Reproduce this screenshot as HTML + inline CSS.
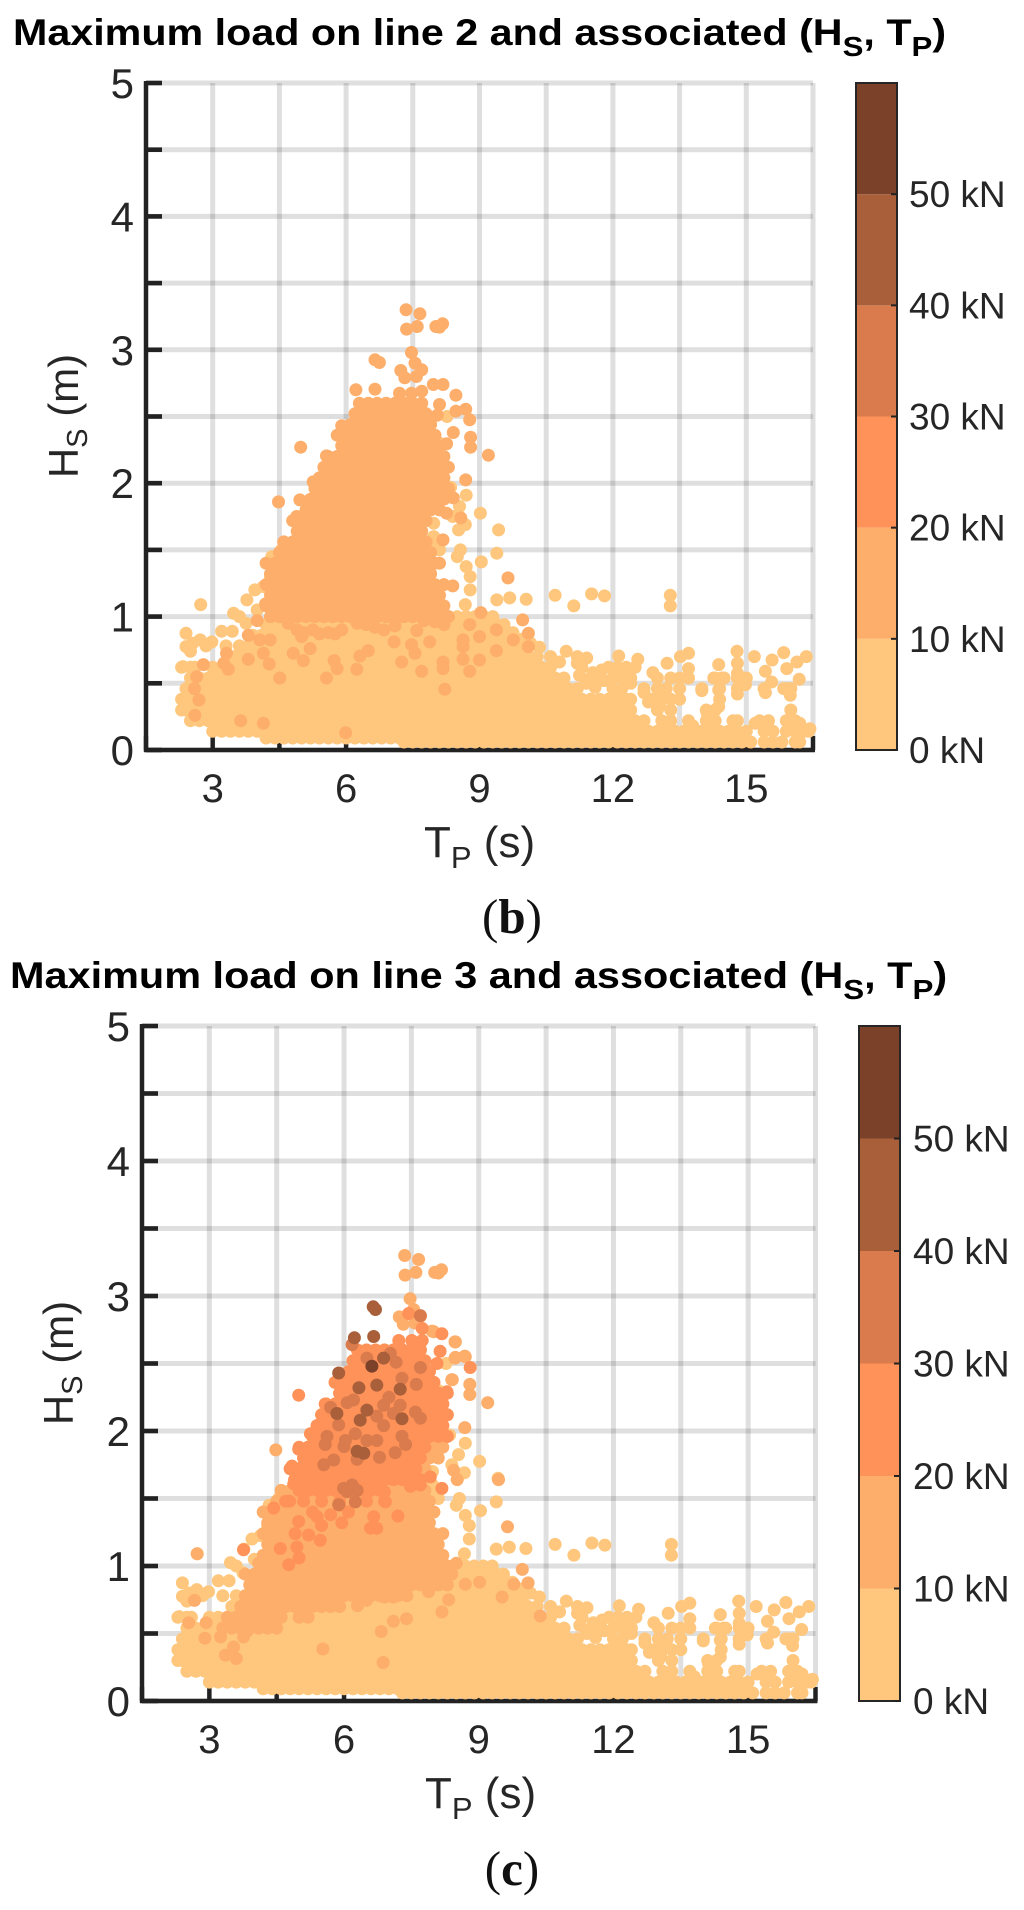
<!DOCTYPE html>
<html>
<head>
<meta charset="utf-8">
<title>Maximum load on lines 2 and 3</title>
<style>
html,body{margin:0;padding:0;background:#fff;}
svg{display:block;}
text{font-family:"Liberation Sans",sans-serif;fill:#262626;}
.title{font-weight:bold;fill:#000;font-size:37px;}
.cap{font-family:"Liberation Serif",serif;fill:#111;font-size:49px;}
.axl{font-size:42px;}
.axt{font-size:44px;}
</style>
</head>
<body>
<svg id="chart" xmlns="http://www.w3.org/2000/svg" width="1024" height="1910" viewBox="0 0 1024 1910">
  <rect width="1024" height="1910" fill="#fff"/>
  <g id="layer-b"></g>
  <g id="layer-c"></g>
  <g transform="translate(13,45) scale(1.115,1)"><text class="title">Maximum load on line 2 and associated (H<tspan font-size="28" dy="11">S</tspan><tspan dy="-11">, T</tspan><tspan font-size="28" dy="11">P</tspan><tspan dy="-11">)</tspan></text></g>
  <g transform="translate(10,988) scale(1.12,1)"><text class="title">Maximum load on line 3 and associated (H<tspan font-size="28" dy="11">S</tspan><tspan dy="-11">, T</tspan><tspan font-size="28" dy="11">P</tspan><tspan dy="-11">)</tspan></text></g>
  <text class="axt" x="424" y="857">T<tspan font-size="31" dy="11">P</tspan><tspan dy="-11"> (s)</tspan></text>
  <text class="axt" x="425" y="1808">T<tspan font-size="31" dy="11">P</tspan><tspan dy="-11"> (s)</tspan></text>
  <text class="axl" text-anchor="middle" transform="translate(78,416) rotate(-90)">H<tspan font-size="29" dy="9">S</tspan><tspan dy="-9"> (m)</tspan></text>
  <text class="axl" text-anchor="middle" transform="translate(73,1363) rotate(-90)">H<tspan font-size="29" dy="9">S</tspan><tspan dy="-9"> (m)</tspan></text>
  <text class="cap" text-anchor="middle" x="512" y="933">(<tspan font-weight="bold">b</tspan>)</text>
  <text class="cap" text-anchor="middle" x="512" y="1885">(<tspan font-weight="bold">c</tspan>)</text>
</svg>
<script>
// ---- tick labels and colour bands ----
const xTickValues = [3, 6, 9, 12, 15];
const yTickValues = [0, 1, 2, 3, 4, 5];
const barLevels = [0, 10, 20, 30, 40, 50, 60];
const barLabels = ['0 kN', '10 kN', '20 kN', '30 kN', '40 kN', '50 kN'];
const bandColors = ['#FEC77D', '#FEAE6B', '#FF9259', '#D97B4C', '#A85F3A', '#7C4229'];

// ---- sea states below 10 kN on both lines (rows of equal Hs) ----
const baseHs = [0.06, 0.09, 0.14, 0.22, 0.30, 0.38, 0.46, 0.54, 0.62, 0.70, 0.78, 0.86, 0.94, 1.0];
const baseTp = [
[7.3,7.5,7.7,7.9,8.1,8.3,8.5,8.7,8.9,9.1,9.3,9.5,9.7,9.9,10.1,10.3,10.5,10.7,10.9,11.1,11.3,11.5,11.7,11.9,12.1,12.3,12.5,12.7,12.9,13.1,13.3,13.5,13.7,13.9,14.1,14.3,14.5,14.7,14.9,15.1,15.4,15.6,15.8,16.1,16.2],
[4.2,4.4,4.6,4.8,5.0,5.2,5.4,5.6,5.8,6.0,6.2,6.4,6.6,6.8,7.0,7.2],
[3.0,3.2,3.4,3.6,3.8,4.0,4.2,4.4,4.6,4.8,5.0,5.2,5.4,5.6,5.8,6.0,6.2,6.4,6.6,6.8,7.0,7.2,7.4,7.6,7.8,8.0,8.2,8.4,8.6,8.8,9.0,9.2,9.4,9.6,9.8,10.0,10.2,10.4,10.6,10.8,11.0,11.2,11.4,11.6,11.8,12.0,12.2,12.4,12.6,12.8,13.0,13.2,13.4,13.6,13.8,14.0,14.2,14.4,14.6,14.8,15.0,15.4,15.6,15.9,16.1,16.3,16.4],
[2.5,2.7,2.9,3.1,3.3,3.5,3.7,3.9,4.1,4.3,4.5,4.7,4.9,5.1,5.3,5.5,5.7,5.9,6.1,6.3,6.5,6.7,6.9,7.1,7.3,7.5,7.7,7.9,8.1,8.3,8.5,8.7,8.9,9.1,9.3,9.5,9.7,9.9,10.1,10.3,10.5,10.7,10.9,11.1,11.3,11.5,11.7,11.9,12.1,12.3,12.5,12.7,13.1,13.3,13.7,14.1,14.3,14.7,14.8,15.3,15.5,15.9,16.0,16.1],
[2.3,2.4,2.6,2.8,3.0,3.2,3.4,3.6,3.8,4.0,4.2,4.4,4.6,4.8,5.0,5.2,5.4,5.6,5.8,6.0,6.2,6.4,6.6,6.8,7.0,7.2,7.4,7.6,7.8,8.0,8.2,8.4,8.6,8.8,9.0,9.2,9.4,9.6,9.8,10.0,10.2,10.4,10.6,10.8,11.0,11.2,11.4,11.6,11.8,12.0,12.2,12.4,13.0,13.3,14.1,14.3,16.0],
[2.3,2.5,2.7,2.9,3.1,3.3,3.5,3.7,3.9,4.1,4.3,4.5,4.7,4.9,5.1,5.3,5.5,5.7,5.9,6.1,6.3,6.5,6.7,6.9,7.1,7.3,7.5,7.7,7.9,8.1,8.3,8.5,8.7,8.9,9.1,9.3,9.5,9.7,9.9,10.1,10.3,10.5,10.7,10.9,11.1,11.3,11.5,11.7,11.9,12.1,12.3,12.4,12.9,13.1,13.3,13.5,14.4],
[2.4,2.6,2.8,3.0,3.2,3.4,3.6,3.8,4.0,4.2,4.4,4.6,4.8,5.0,5.2,5.4,5.6,5.8,6.0,6.2,6.4,6.6,6.8,7.0,7.2,7.4,7.6,7.8,8.0,8.2,8.4,8.6,8.8,9.0,9.2,9.4,9.6,9.8,10.0,10.2,10.4,10.6,10.8,11.0,11.2,12.0,12.2,12.7,13.0,13.2,13.5,14.0,14.4,14.8,15.4,15.9,16.0],
[2.5,2.7,2.9,3.1,3.3,3.5,3.7,3.9,4.1,4.3,4.5,4.7,4.9,5.1,5.3,5.5,5.7,5.9,6.1,6.3,6.5,6.7,6.9,7.1,7.3,7.5,7.7,7.9,8.1,8.3,8.5,8.7,8.9,9.1,9.3,9.5,9.7,9.9,10.1,10.3,10.5,10.7,10.9,11.5,11.7,12.0,12.2,12.4,13.0,13.3,13.5,13.7,14.3,14.5,14.8,15.0],
[2.3,2.5,3.0,3.2,3.4,3.6,3.8,4.0,4.2,4.4,4.6,4.8,5.0,5.2,5.4,5.6,5.8,6.0,6.2,6.4,6.6,6.8,7.0,7.2,7.4,7.6,7.8,8.0,8.2,8.4,8.6,8.8,9.0,9.2,9.4,9.6,9.8,10.0,10.2,10.4,10.6,11.3,11.9,12.1,12.3,12.5],
[3.5,3.7,3.9,4.1,4.3,4.5,4.7,4.9,5.1,5.3,5.5,5.7,5.9,6.1,6.3,6.5,6.7,6.9,7.1,7.3,7.5,7.7,7.9,8.1,8.3,8.5,8.7,8.9,9.1,9.3,9.5,9.7,9.9,10.1,10.3,11.2],
[3.6,3.8,4.0,4.2,4.4,4.6,4.8,5.0,5.2,5.4,5.6,5.8,6.0,6.2,6.4,6.6,6.8,7.0,7.2,7.4,7.6,7.8,8.0,8.2,8.4,8.6,8.8,9.0,9.2,9.4,9.6,9.8,10.0],
[3.9,4.1,4.3,4.5,4.7,4.9,5.1,5.3,5.5,5.7,5.9,6.1,6.3,6.5,6.7,6.9,7.1,7.3,7.5,7.7,7.9,8.1,8.3,8.5,8.7,8.9,9.1,9.3,9.5,9.7],
[4.2,4.4,4.6,4.8,5.0,5.2,5.4,5.6,5.8,6.0,6.2,6.4,6.6,6.8,7.0,7.2,7.4,7.6,7.8,8.0,8.2,8.4,8.6,8.8,9.0,9.2,9.4],
[8.3,8.5,8.7,8.9,9.1,9.3]
];

// ---- isolated sea states below 10 kN on both lines ----
const sparseTp = [2.73,2.4,2.72,2.98,2.4,2.5,3.2,3.44,3.47,3.6,3.77,4.14,4.0,2.33,2.6,2.85,2.55,3.3,3.75,4.33,4.38,4.3,4.55,9.02,9.43,9.39,9.04,9.39,9.68,10.05,10.7,11.12,11.52,11.81,13.29,13.29,8.7,8.55,8.68,8.53,8.57,8.5,8.7,8.79,8.79,8.68,8.27,8.1,8.35,8.4,7.97,7.97,8.1,7.9,8.0,10.95,11.41,11.2,12.13,12.56,13.7,13.52,13.22,13.7,12.9,14.79,14.38,14.8,14.8,15.18,15.84,16.35,15.58,15.43,15.91,16.14,16.19,15.57,14.27,14.45,14.98,14.8,15.43,15.84,15.99,14.38,14.38,14.12,14.0,16.43,15.2,13.8,16.2,3.95,11.4,11.6,11.8,11.25,11.55,11.75,12.3,12.4,12.7,12.8,13.05,10.8,10.6,10.35,10.15,9.95,9.75,9.55];
const sparseHs = [1.09,0.875,0.825,0.81,0.775,0.74,0.89,0.89,1.025,1.0,1.125,1.225,1.05,0.625,0.62,0.78,0.8,0.78,0.95,1.45,1.37,1.3,1.5,1.775,1.65,1.475,1.41,1.125,1.14,1.13,1.16,1.08,1.17,1.155,1.16,1.08,1.91,1.825,1.69,1.65,1.5,1.45,1.375,1.3,1.2,1.09,2.5,2.3,1.97,1.75,1.7,1.6,1.5,1.5,1.55,0.74,0.69,0.65,0.705,0.68,0.725,0.7,0.65,0.61,0.58,0.74,0.64,0.65,0.575,0.7,0.73,0.7,0.675,0.59,0.61,0.66,0.53,0.51,0.54,0.54,0.49,0.42,0.43,0.46,0.41,0.45,0.325,0.275,0.445,0.16,0.2,0.18,0.2,1.2,0.5,0.47,0.52,0.56,0.58,0.6,0.6,0.5,0.43,0.36,0.33,0.66,0.7,0.77,0.8,0.83,0.88,0.94];

// ---- central cloud, 10-20 kN on both lines unless overdrawn ----
const cloudHs = [1.00,1.08,1.16,1.24,1.32,1.40,1.48,1.56,1.64,1.72,1.80,1.88,1.96,2.04,2.12,2.20,2.28,2.36,2.44,2.52,2.60];
const cloudTp = [
[4.3,4.5,4.7,4.9,5.1,5.3,5.5,5.7,5.9,6.1,6.3,6.5,6.7,6.9,7.1,7.3,7.5,7.7,7.9,8.1,8.3],
[4.2,4.4,4.6,4.8,5.0,5.2,5.4,5.6,5.8,6.0,6.2,6.4,6.6,6.8,7.0,7.2,7.4,7.6,7.8,8.0,8.2],
[4.3,4.5,4.7,4.9,5.1,5.3,5.5,5.7,5.9,6.1,6.3,6.5,6.7,6.9,7.1,7.3,7.5,7.7,7.9,8.1],
[4.2,4.4,4.6,4.8,5.0,5.2,5.4,5.6,5.8,6.0,6.2,6.4,6.6,6.8,7.0,7.2,7.4,7.6,7.8,8.0,8.2],
[4.3,4.5,4.7,4.9,5.1,5.3,5.5,5.7,5.9,6.1,6.3,6.5,6.7,6.9,7.1,7.3,7.5,7.7,7.9],
[4.2,4.4,4.6,4.8,5.0,5.2,5.4,5.6,5.8,6.0,6.2,6.4,6.6,6.8,7.0,7.2,7.4,7.6,7.8,8.0],
[4.5,4.7,4.9,5.1,5.3,5.5,5.7,5.9,6.1,6.3,6.5,6.7,6.9,7.1,7.3,7.5,7.7,7.9],
[4.6,4.8,5.0,5.2,5.4,5.6,5.8,6.0,6.2,6.4,6.6,6.8,7.0,7.2,7.4,7.6,7.8],
[4.9,5.1,5.3,5.5,5.7,5.9,6.1,6.3,6.5,6.7,6.9,7.1,7.3,7.5,7.7],
[4.8,5.0,5.2,5.4,5.6,5.8,6.0,6.2,6.4,6.6,6.8,7.0,7.2,7.4,7.6,7.8],
[5.1,5.3,5.5,5.7,5.9,6.1,6.3,6.5,6.7,6.9,7.1,7.3,7.5,7.7,7.9,8.1],
[5.2,5.4,5.6,5.8,6.0,6.2,6.4,6.6,6.8,7.0,7.2,7.4,7.6,7.8,8.0,8.2],
[5.3,5.5,5.7,5.9,6.1,6.3,6.5,6.7,6.9,7.1,7.3,7.5,7.7,7.9,8.1,8.3],
[5.4,5.6,5.8,6.0,6.2,6.4,6.6,6.8,7.0,7.2,7.4,7.6,7.8,8.0,8.2],
[5.5,5.7,5.9,6.1,6.3,6.5,6.7,6.9,7.1,7.3,7.5,7.7,7.9,8.1,8.3],
[5.6,5.8,6.0,6.2,6.4,6.6,6.8,7.0,7.2,7.4,7.6,7.8,8.0,8.2],
[5.9,6.1,6.3,6.5,6.7,6.9,7.1,7.3,7.5,7.7,7.9,8.1],
[5.8,6.0,6.2,6.4,6.6,6.8,7.0,7.2,7.4,7.6,7.8,8.0],
[6.1,6.3,6.5,6.7,6.9,7.1,7.3,7.5,7.7,7.9],
[6.2,6.4,6.6,6.8,7.0,7.2,7.4,7.6,7.8],
[6.3,6.5,6.7,6.9,7.1,7.3,7.5,7.7]
];
const peakTp = [7.35,7.66,7.36,7.6,8.02,8.17,8.1,7.47,7.55,7.7,7.23,7.32,7.58,7.96,8.47,8.47,8.69,8.41,8.8,8.8,9.2,8.69,4.48,9.64,9.97,10.1];
const peakHs = [3.30,3.27,3.155,3.175,3.175,3.195,3.17,2.98,2.9,2.85,2.845,2.79,2.8,2.74,2.66,2.54,2.555,2.38,2.345,2.27,2.21,2.025,1.86,1.29,0.975,0.875];

// ---- line 2: remaining 10-20 kN points ----
const line2Tp = [6.65,6.75,8.18,6.22,6.65,7.2,7.47,7.7,8.1,8.05,8.78,5.9,8.26,4.98,5.56,5.26,4.96,4.89,8.41,8.58,8.26,8.18,8.1,8.4,7.7,9.03,9.76,9.38,9.0,8.78,8.63,8.63,9.38,8.63,9.0,8.78,8.22,8.18,8.18,7.7,7.88,7.55,7.47,7.59,7.08,7.25,6.5,6.31,6.24,5.73,5.8,5.56,5.04,4.81,5.19,5.0,4.51,4.27,3.8,3.8,4.0,4.19,4.06,4.29,4.14,3.31,3.25,3.35,2.79,2.64,2.59,2.69,2.6,3.63,4.14,5.99,10.1,4.7,4.9,5.05,5.25,5.4,5.6,5.75,5.9,6.25,6.45,6.65,6.85,7.1,7.75,8.0,8.2];
const line2Hs = [2.925,2.905,2.74,2.7,2.705,2.675,2.675,2.69,2.59,2.51,2.475,2.43,2.295,2.27,2.205,2.01,1.875,1.75,1.89,1.74,1.775,1.575,1.4,1.23,1.04,1.03,0.825,0.9,0.85,0.94,0.825,0.775,0.745,0.68,0.675,0.59,0.455,0.66,0.61,0.59,0.81,0.725,0.79,0.895,0.81,0.66,0.745,0.705,0.605,0.67,0.61,0.54,0.67,0.725,0.76,0.85,0.54,0.645,0.68,0.86,0.97,1.095,0.825,0.825,0.725,0.725,0.65,0.605,0.64,0.55,0.46,0.375,0.26,0.22,0.2,0.13,0.775,0.95,0.9,0.88,0.9,0.87,0.88,0.87,0.9,0.95,0.94,0.92,0.9,0.93,0.97,0.96,0.94];

// ---- line 3: additional 10-20 kN rows and points ----
const line3MidHs = [0.54,0.62,0.70,0.78,0.86,0.94,1.02];
const line3MidTp = [
[3.3,3.5,3.7,3.9,4.1,4.3,4.5],
[3.4,3.6,3.8,4.0,4.2,4.4,4.6,5.0,5.2],
[3.7,3.9,4.1,4.3,4.5,4.7,4.9,5.1,5.3,5.5,5.7,5.9],
[3.8,4.0,4.2,4.4,4.6,4.8,5.0,5.2,5.4,5.6,5.8,6.0,6.2,6.4,6.6,6.8,7.0,7.2,7.4],
[3.9,4.1,4.3,4.5,4.7,4.9,5.1,5.3,5.5,5.7,5.9,6.1,6.3,6.5,6.7,6.9,7.1,7.3,7.5,7.7,7.9,8.1,8.3],
[3.8,4.0,4.2,4.4,4.6,4.8,5.0,5.2,5.4,5.6,5.8,6.0,6.2,6.4,6.6,6.8,7.0,7.2,7.4,7.6,7.8,8.0,8.2,8.4],
[4.1,4.3,8.5]
];
const line3MidPointTp = [3.36,3.6,3.54,2.9,3.25,3.76,3.85,6.3,6.5,6.9,7.1,7.3,5.53,6.87,6.83,7.1,7.39,7.88,8.18,8.33,8.7,9.02,9.52,9.78,10.37,2.67,2.54,2.93,2.73,8.48,8.48,8.7,8.4,8.0,9.44,8.44,8.52];
const line3MidPointHs = [0.34,0.315,0.4,0.465,0.475,0.475,0.52,0.705,0.745,0.77,0.77,0.79,0.385,0.285,0.515,0.59,0.61,0.81,0.66,0.75,0.865,0.88,0.77,0.865,0.63,0.745,0.58,0.58,1.09,2.66,2.545,2.55,2.38,2.735,1.64,1.71,1.64];

// ---- line 3: 20-30 kN rows and points ----
const line3HighHs = [1.48,1.56,1.64,1.72,1.80,1.88,1.96,2.04,2.12,2.20,2.28,2.36,2.44,2.52,2.60];
const line3HighTp = [
[4.7,5.1,5.5,5.9,6.5,6.9],
[5.0,5.2,5.4,5.6,5.8,6.0,6.2,6.4,6.6,6.8],
[4.9,5.1,5.3,5.5,5.7,5.9,6.1,6.3,6.5,6.7,6.9,7.1,7.3,7.5,7.7],
[4.8,5.0,5.2,5.4,5.6,5.8,6.0,6.2,6.4,6.6,6.8,7.0,7.2,7.4,7.6],
[5.1,5.3,5.5,5.7,5.9,6.1,6.3,6.5,6.7,6.9,7.1,7.3,7.5,7.7],
[5.0,5.2,5.4,5.6,5.8,6.0,6.2,6.4,6.6,6.8,7.0,7.2,7.4,7.6,7.8],
[5.3,5.5,5.7,5.9,6.1,6.3,6.5,6.7,6.9,7.1,7.3,7.5,7.7,7.9,8.1,8.3],
[5.4,5.6,5.8,6.0,6.2,6.4,6.6,6.8,7.0,7.2,7.4,7.6,7.8,8.0,8.2],
[5.5,5.7,5.9,6.1,6.3,6.5,6.7,6.9,7.1,7.3,7.5,7.7,7.9,8.1,8.3],
[5.6,5.8,6.0,6.2,6.4,6.6,6.8,7.0,7.2,7.4,7.6,7.8,8.0,8.2],
[5.9,6.1,6.3,6.5,6.7,6.9,7.1,7.3,7.5,7.7,7.9,8.1,8.3],
[5.8,6.0,6.2,6.4,6.6,6.8,7.0,7.2,7.4,7.6,7.8,8.0],
[6.1,6.3,6.5,6.7,6.9,7.1,7.3,7.5,7.7,7.9],
[6.2,6.4,6.6,6.8,7.0,7.2,7.4,7.6,7.8],
[6.3,6.5,6.7,6.9,7.1,7.3,7.5,7.7]
];
const line3HighPointTp = [4.77,4.58,5.0,4.95,4.91,5.21,5.47,4.99,4.43,4.79,5.4,5.95,6.59,6.73,6.66,7.2,6.92,7.48,7.7,7.92,8.18,3.76,7.44,7.74,8.18,7.22,7.51,7.74,8.14,8.07,8.81,8.29,5.58,5.95,4.99,5.25,4.99,4.84,4.88,5.3,5.5,5.7,5.9,6.1,6.9];
const line3HighPointHs = [1.01,1.13,1.06,1.14,1.24,1.23,1.19,1.33,1.43,1.48,1.365,1.32,1.28,1.28,1.365,1.37,1.475,1.59,1.6,1.66,1.575,1.12,2.87,2.76,2.72,2.67,2.67,2.67,2.59,2.5,2.47,2.29,2.2,2.28,2.265,1.98,1.865,1.74,1.61,1.4,1.3,1.38,1.45,1.4,1.55];

// ---- line 3: loads above 30 kN ----
const line3L35Tp = [7.7,6.18,6.51,7.03,7.16,7.7,7.61,7.29,7.0,5.7,6.07,6.21,6.88,7.59,7.7,7.25,7.1,6.73,6.88,5.88,6.25,5.62,6.03,6.51,6.73,7.29,7.37,5.58,6.0,7.14,6.79,5.77,5.55,6.29,5.99,6.18,6.29,5.88,6.25,6.07];
const line3L35Hs = [2.855,2.64,2.54,2.575,2.51,2.47,2.345,2.39,2.25,2.175,2.21,2.23,2.19,2.14,2.095,2.19,2.13,2.11,2.04,2.045,1.98,1.96,1.93,1.93,1.93,1.96,1.9,1.9,1.885,1.84,1.805,1.785,1.75,1.79,1.575,1.6,1.56,1.455,1.475,1.55];
const line3L45Tp = [6.7,6.65,6.66,6.23,6.88,5.88,6.33,6.73,7.25,6.51,5.84,6.36,7.29,6.29,6.44];
const line3L45Hs = [2.9,2.92,2.7,2.69,2.54,2.43,2.32,2.34,2.31,2.155,2.13,2.08,2.09,1.85,1.835];
const line3L55Tp = [6.62];
const line3L55Hs = [2.48];

// ---- load assigned to each layer ----
const lowLoad = 5;
const midLoad = 15;
const highLoad = 25;
const severeLoad = 35;
const extremeLoad = 45;
const peakLoad = 55;

const SVGNS = 'http://www.w3.org/2000/svg';
const RADIUS = 6.5;

function makePanel(id, left, top, width, height, barLeft, barWidth, barLabelX, xLabelY) {
  return {
    g: document.getElementById(id), left: left, top: top, width: width, height: height,
    barLeft: barLeft, barWidth: barWidth, barLabelX: barLabelX, xLabelY: xLabelY,
    x: function (t) { return left + (t - 1.5) / 15 * width; },
    y: function (h) { return top + height - h / 5 * height; },
    z: function (v) { return top + height - v / 60 * height; }
  };
}

function line(parent, x1, y1, x2, y2, stroke, w, opacity) {
  const el = document.createElementNS(SVGNS, 'line');
  el.setAttribute('x1', x1);
  el.setAttribute('y1', y1);
  el.setAttribute('x2', x2);
  el.setAttribute('y2', y2);
  el.setAttribute('stroke', stroke);
  el.setAttribute('stroke-width', w);
  if (opacity) el.setAttribute('stroke-opacity', opacity);
  parent.appendChild(el);
  return el;
}

function label(parent, x, y, str, anchor, size) {
  const el = document.createElementNS(SVGNS, 'text');
  el.setAttribute('x', x);
  el.setAttribute('y', y);
  el.setAttribute('text-anchor', anchor);
  el.setAttribute('font-size', size);
  el.textContent = str;
  parent.appendChild(el);
  return el;
}

function dot(p, t, h, load) {
  const el = document.createElementNS(SVGNS, 'circle');
  el.setAttribute('cx', p.x(t).toFixed(1));
  el.setAttribute('cy', p.y(h).toFixed(1));
  el.setAttribute('r', RADIUS);
  el.setAttribute('fill', bandColors[Math.floor(load / 10)]);
  
  
  p.g.appendChild(el);
}

function drawPoints(p, tp, hs, load) {
  for (let i = 0; i < tp.length; i++) dot(p, tp[i], hs[i], load);
}

function drawRows(p, rowHs, rowTp, load) {
  for (let r = 0; r < rowHs.length; r++) {
    for (let i = 0; i < rowTp[r].length; i++) dot(p, rowTp[r][i], rowHs[r], load);
  }
}

function drawFrame(p) {
  const bottom = p.top + p.height;
  const right = p.left + p.width;
  for (let k = 0; k <= 10; k++) {
    const t = 1.5 + k * 1.5;
    const gx = line(p.g, p.x(t), p.top, p.x(t), bottom, '#000', 5, 0.125);
    
    
    const tx = line(p.g, p.x(t), bottom, p.x(t), bottom - 14, '#222', 4.4);
    
    
  }
  for (let k = 0; k <= 10; k++) {
    const h = k * 0.5;
    const gy = line(p.g, p.left, p.y(h), right, p.y(h), '#000', 5, 0.125);
    
    
    const ty = line(p.g, p.left, p.y(h), p.left + 16, p.y(h), '#222', 4.6);
    
    
  }
  const ax = line(p.g, p.left - 2, bottom, right + 2, bottom, '#222', 4.4);
  
  
  const ay = line(p.g, p.left, p.top - 2, p.left, bottom + 2, '#222', 4.4);
  
  
  xTickValues.forEach(function (v) {
    const t = label(p.g, p.x(v), p.xLabelY, String(v), 'middle', 40);
    
    
  });
  yTickValues.forEach(function (v) {
    const t = label(p.g, p.left - 12, p.y(v) + 15, String(v), 'end', 42);
    
    
  });
}

function drawColorbar(p) {
  for (let i = 0; i < bandColors.length; i++) {
    const el = document.createElementNS(SVGNS, 'rect');
    const y1 = p.z(barLevels[i + 1]);
    const y0 = p.z(barLevels[i]);
    el.setAttribute('x', p.barLeft);
    el.setAttribute('y', y1);
    el.setAttribute('width', p.barWidth);
    el.setAttribute('height', y0 - y1);
    el.setAttribute('fill', bandColors[i]);
    
    
    p.g.appendChild(el);
  }
  const box = document.createElementNS(SVGNS, 'rect');
  box.setAttribute('x', p.barLeft);
  box.setAttribute('y', p.top);
  box.setAttribute('width', p.barWidth);
  box.setAttribute('height', p.height);
  box.setAttribute('fill', 'none');
  box.setAttribute('stroke', '#262626');
  box.setAttribute('stroke-width', 2);
  
  
  p.g.appendChild(box);
  barLabels.forEach(function (txt, i) {
    const yy = p.z(barLevels[i]);
    const tick = line(p.g, p.barLeft + p.barWidth - 6, yy, p.barLeft + p.barWidth, yy, '#222', 2);
    
    
    const t = label(p.g, p.barLabelX, yy + 13, txt, 'start', 37);
    
    
  });
}

const panelB = makePanel('layer-b', 146, 83, 667, 667, 856, 41, 909, 802);
const panelC = makePanel('layer-c', 142, 1026, 673.5, 675, 859, 41, 913, 1753);

[panelB, panelC].forEach(function (p) {
  drawFrame(p);
  drawColorbar(p);
  drawRows(p, baseHs, baseTp, lowLoad);
  drawPoints(p, sparseTp, sparseHs, lowLoad);
});

drawRows(panelB, cloudHs, cloudTp, midLoad);
drawPoints(panelB, peakTp, peakHs, midLoad);
drawPoints(panelB, line2Tp, line2Hs, midLoad);

drawRows(panelC, line3MidHs, line3MidTp, midLoad);
drawPoints(panelC, line3MidPointTp, line3MidPointHs, midLoad);
drawRows(panelC, cloudHs, cloudTp, midLoad);
drawPoints(panelC, peakTp, peakHs, midLoad);
drawRows(panelC, line3HighHs, line3HighTp, highLoad);
drawPoints(panelC, line3HighPointTp, line3HighPointHs, highLoad);
drawPoints(panelC, line3L35Tp, line3L35Hs, severeLoad);
drawPoints(panelC, line3L45Tp, line3L45Hs, extremeLoad);
drawPoints(panelC, line3L55Tp, line3L55Hs, peakLoad);
</script>
</body>
</html>
